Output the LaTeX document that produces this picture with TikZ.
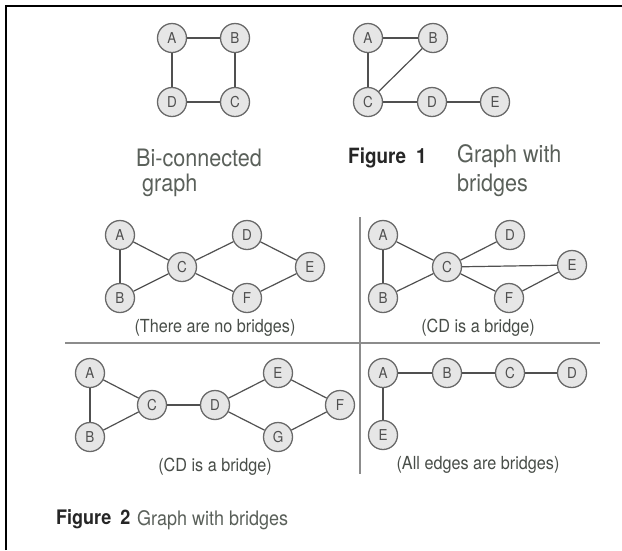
\documentclass[tikz,border=0pt]{standalone}
\usepackage{fontspec}
\setmainfont{TeX Gyre Heros}
\newfontfamily\condfont[FakeStretch=0.9]{TeX Gyre Heros}
\usetikzlibrary{positioning}
\definecolor{ringgray}{RGB}{105,105,105}
\definecolor{nodefill}{RGB}{230,230,230}
\definecolor{edgegray}{RGB}{80,80,80}
\definecolor{capgray}{RGB}{90,96,90}
\definecolor{rulegray}{RGB}{140,140,140}

\begin{document}
\begin{tikzpicture}[x=1pt,y=-1pt,
    vtx/.style={circle,draw=ringgray,line width=1.3pt,fill=nodefill,minimum size=29pt,
      inner sep=0pt,font=\condfont\fontsize{15}{15}\selectfont,text=edgegray},
    edge/.style={draw=edgegray,line width=1.2pt},
    capt/.style={font=\condfont\fontsize{18}{18}\selectfont,text=capgray!80!black,inner sep=0pt},
    figtxt/.style={font=\condfont\fontsize{24}{24}\selectfont,text=capgray,inner sep=0pt,anchor=west},
    fignum/.style={font=\condfont\fontsize{21}{21}\selectfont\bfseries,text=black!85,inner sep=0pt,anchor=west}]
    \useasboundingbox (0,0) rectangle (622,550);
    % Frame
    \draw[line width=2pt] (6,550) -- (6,6) -- (622,6);

    % Figure 1, bi-connected
    \foreach \n/\x/\y in {A/172/38,B/235/38,D/172/102,C/235/102}
      \node[vtx] (a\n) at (\x,\y) {\n};
    \foreach \u/\v in {A/B,B/C,C/D,D/A} \draw[edge] (a\u) -- (a\v);
    \node[figtxt] (aCap1) at (136,158) {Bi-connected};
    \node[figtxt] (aCap2) at (142,185) {graph};

    % Figure 1, with bridges
    \foreach \n/\x/\y in {A/368/38,B/433/38,C/368/102,D/432/102,E/495/102}
      \node[vtx] (b\n) at (\x,\y) {\n};
    \foreach \u/\v in {A/B,A/C,C/B,C/D,D/E} \draw[edge] (b\u) -- (b\v);
    \node[fignum] (bFig) at (348,158) {Figure\hspace{10pt}1};
    \node[figtxt] (bCap1) at (457,156) {Graph with};
    \node[figtxt] (bCap2) at (457,185) {bridges};

    % Dividers
    \draw[rulegray,line width=1.5pt] (65,343) -- (600,343);
    \draw[rulegray,line width=1.5pt] (360,217) -- (360,474);

    % Panel: no bridges
    \foreach \n/\x/\y in {A/120/235,B/120/298,C/182/267,D/247/235,E/310/267,F/247/298}
      \node[vtx] (c\n) at (\x,\y) {\n};
    \foreach \u/\v in {A/B,A/C,B/C,C/D,D/E,C/F,F/E} \draw[edge] (c\u) -- (c\v);
    \node[capt] (cCap) at (215,328) {(There are no bridges)};

    % Panel: CD bridge
    \foreach \n/\x/\y in {A/383/235,B/383/298,C/447/267,D/510/235,E/572/265,F/509/298}
      \node[vtx] (d\n) at (\x,\y) {\n};
    \foreach \u/\v in {A/B,A/C,B/C,C/D,C/E,C/F,F/E} \draw[edge] (d\u) -- (d\v);
    \node[capt] (dCap) at (478,328) {(CD is a bridge)};

    % Panel: CD bridge, two cycles
    \foreach \n/\x/\y in {A/90/373,B/90/437,C/152/405,D/215/405,E/278/373,G/278/437,F/340/405}
      \node[vtx] (e\n) at (\x,\y) {\n};
    \foreach \u/\v in {A/B,A/C,B/C,C/D,D/E,E/F,D/G,G/F} \draw[edge] (e\u) -- (e\v);
    \node[capt] (eCap) at (215,467) {(CD is a bridge)};

    % Panel: tree
    \foreach \n/\x/\y in {A/383/373,B/447/373,C/510/373,D/572/373,E/383/435}
      \node[vtx] (f\n) at (\x,\y) {\n};
    \foreach \u/\v in {A/B,B/C,C/D,A/E} \draw[edge] (f\u) -- (f\v);
    \node[capt] (fCap) at (478,465) {(All edges are bridges)};

    % Figure 2
    \node[fignum,font=\condfont\fontsize{20}{20}\selectfont\bfseries] (gFig) at (56,519) {Figure\hspace{9pt}2};
    \node[figtxt,font=\condfont\fontsize{20}{20}\selectfont] (gCap) at (137,520) {Graph with bridges};
  \end{tikzpicture}
\end{document}
